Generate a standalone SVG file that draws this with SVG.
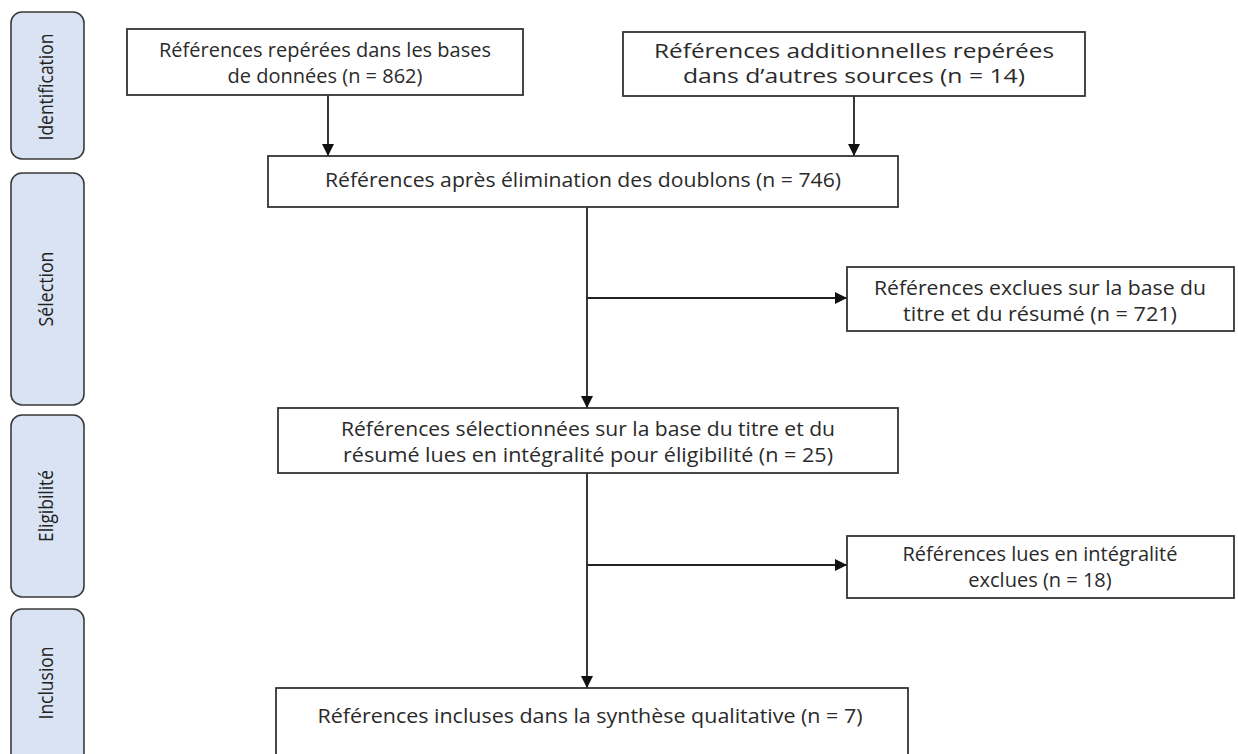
<svg xmlns="http://www.w3.org/2000/svg" width="1238" height="754" viewBox="0 0 1238 754">
<style>
.phase{fill:#dae3f3;stroke:#3a3a3a;stroke-width:1.6}
.phase-t{font-family:"Open Sans","Liberation Sans",sans-serif;font-size:20px;fill:#222;text-anchor:middle}
.box{fill:#fff;stroke:#333;stroke-width:1.8}
.t{font-family:"Open Sans","Liberation Sans",sans-serif;font-size:20px;fill:#2a2a2a;text-anchor:middle}
.c{fill:none;stroke:#222;stroke-width:1.8}
</style>
<defs>
<marker id="ah" markerWidth="12" markerHeight="12" viewBox="0 0 12 12" refX="12" refY="6" orient="auto" markerUnits="userSpaceOnUse">
<path d="M0,0 L12,6 L0,12 z" fill="#111"/>
</marker>
</defs>
<rect width="1238" height="754" fill="#fff"/>
<g id="phase-identification">
<rect class="phase" x="11" y="12" width="73" height="147" rx="11"/>
<text class="phase-t" transform="translate(53,87) rotate(-90)" textLength="107" lengthAdjust="spacingAndGlyphs">Identification</text>
</g>
<g id="phase-selection">
<rect class="phase" x="11" y="173" width="73" height="232" rx="11"/>
<text class="phase-t" transform="translate(53,289) rotate(-90)" textLength="75" lengthAdjust="spacingAndGlyphs">Sélection</text>
</g>
<g id="phase-eligibilite">
<rect class="phase" x="11" y="415" width="73" height="182" rx="11"/>
<text class="phase-t" transform="translate(53,506) rotate(-90)" textLength="72" lengthAdjust="spacingAndGlyphs">Eligibilité</text>
</g>
<g id="phase-inclusion">
<rect class="phase" x="11" y="609" width="73" height="170" rx="11"/>
<text class="phase-t" transform="translate(53,683) rotate(-90)" textLength="73" lengthAdjust="spacingAndGlyphs">Inclusion</text>
</g>
<g id="connectors">
<line class="c" x1="328" y1="95" x2="328" y2="156" marker-end="url(#ah)"/>
<line class="c" x1="854" y1="96" x2="854" y2="156" marker-end="url(#ah)"/>
<line class="c" x1="587" y1="207" x2="587" y2="408" marker-end="url(#ah)"/>
<line class="c" x1="587" y1="298" x2="847" y2="298" marker-end="url(#ah)"/>
<line class="c" x1="587" y1="473" x2="587" y2="688" marker-end="url(#ah)"/>
<line class="c" x1="587" y1="565" x2="847" y2="565" marker-end="url(#ah)"/>
</g>
<g id="n1">
<rect class="box" x="127" y="29" width="396" height="66"/>
<text class="t" x="325" y="57">Références repérées dans les bases</text>
<text class="t" x="325" y="83">de données (n = 862)</text>
</g>
<g id="n2">
<rect class="box" x="623" y="32" width="462" height="64"/>
<text class="t" x="854" y="58" textLength="400" lengthAdjust="spacingAndGlyphs">Références additionnelles repérées</text>
<text class="t" x="854" y="83" textLength="342" lengthAdjust="spacingAndGlyphs">dans d’autres sources (n = 14)</text>
</g>
<g id="n3">
<rect class="box" x="268" y="156" width="630" height="51"/>
<text class="t" x="583" y="187" textLength="516" lengthAdjust="spacingAndGlyphs">Références après élimination des doublons (n = 746)</text>
</g>
<g id="n4">
<rect class="box" x="847" y="267" width="387" height="64"/>
<text class="t" x="1040" y="295" textLength="332" lengthAdjust="spacingAndGlyphs">Références exclues sur la base du</text>
<text class="t" x="1040" y="321" textLength="274" lengthAdjust="spacingAndGlyphs">titre et du résumé (n = 721)</text>
</g>
<g id="n5">
<rect class="box" x="278" y="408" width="620" height="65"/>
<text class="t" x="588" y="436" textLength="494" lengthAdjust="spacingAndGlyphs">Références sélectionnées sur la base du titre et du</text>
<text class="t" x="588" y="462" textLength="490" lengthAdjust="spacingAndGlyphs">résumé lues en intégralité pour éligibilité (n = 25)</text>
</g>
<g id="n6">
<rect class="box" x="847" y="536" width="387" height="62"/>
<text class="t" x="1040" y="561">Références lues en intégralité</text>
<text class="t" x="1040" y="587">exclues (n = 18)</text>
</g>
<g id="n7">
<rect class="box" x="276" y="688" width="632" height="80"/>
<text class="t" x="590" y="723" textLength="545" lengthAdjust="spacingAndGlyphs">Références incluses dans la synthèse qualitative (n = 7)</text>
</g>
</svg>
